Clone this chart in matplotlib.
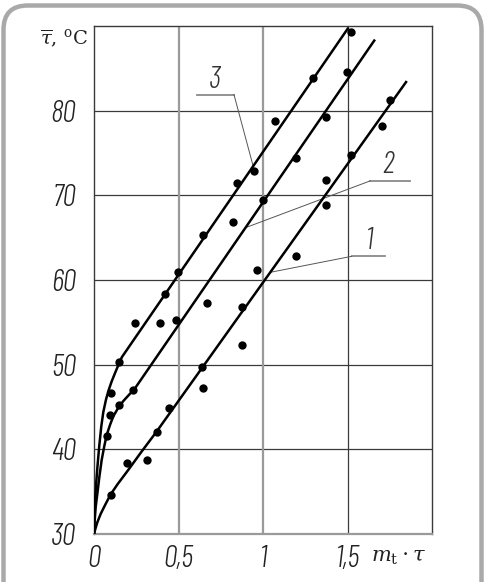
import matplotlib
matplotlib.use("Agg")
import matplotlib.pyplot as plt
from matplotlib.patches import FancyBboxPatch

# ---- data ----
x_ticks = [0, 0.5, 1, 1.5]
x_tick_labels = ["0", "0,5", "1", "1,5"]
y_ticks = [30, 40, 50, 60, 70, 80]
y_tick_labels = ["30", "40", "50", "60", "70", "80"]

# measured points
pts3_x = [0.099, 0.148, 0.242, 0.42, 0.498, 0.646, 0.843, 0.945, 1.069, 1.292, 1.517]
pts3_y = [46.7, 50.3, 54.9, 58.3, 61.0, 65.3, 71.5, 72.9, 78.8, 83.8, 89.3]
pts2_x = [0.075, 0.095, 0.148, 0.232, 0.39, 0.485, 0.666, 0.823, 0.997, 1.194, 1.371, 1.497]
pts2_y = [41.6, 44.0, 45.2, 47.0, 54.9, 55.3, 57.3, 66.8, 69.5, 74.4, 79.3, 84.6]
pts1_x = [0.099, 0.193, 0.315, 0.37, 0.445, 0.636, 0.646, 0.873, 0.876, 0.961, 1.194,
          1.371, 1.371, 1.517, 1.702, 1.749]
pts1_y = [34.6, 38.4, 38.7, 42.1, 44.9, 49.7, 47.3, 56.8, 52.3, 61.2, 62.8,
          68.8, 71.8, 74.8, 78.2, 81.3]

# fitted curves
curve3_x = [0, 0.002, 0.005, 0.009, 0.014, 0.021, 0.031, 0.043, 0.055, 0.07, 0.085, 0.104, 0.124, 0.145, 0.165, 1.503]
curve3_y = [30, 31.8, 33.4, 34.8, 36.3, 38.1, 40.4, 42.7, 44.4, 45.8, 46.9, 48.0, 49.0, 50.0, 50.9, 89.8]
curve2_x = [0, 0.004, 0.01, 0.02, 0.032, 0.045, 0.06, 0.075, 0.095, 0.114, 0.14, 0.173, 0.205, 0.242, 1.66]
curve2_y = [30, 31.6, 33.2, 34.8, 36.8, 38.7, 40.3, 41.7, 42.9, 43.9, 44.8, 45.7, 46.4, 47.2, 88.4]
curve1_x = [0, 0.008, 0.02, 0.04, 0.07, 0.099, 0.14, 0.2, 0.28, 0.37, 1.848]
curve1_y = [30, 30.6, 31.4, 32.4, 33.6, 34.7, 35.9, 37.5, 39.7, 42.1, 83.5]

curve_labels = ["1", "2", "3"]
label_pos_x = [1.631, 1.739, 0.715]
label_pos_y = [64.6, 73.6, 83.6]
underline_x0 = [1.523, 1.631, 0.61]
underline_x1 = [1.719, 1.867, 0.827]
underline_y = [62.8, 71.7, 81.9]
leader_end_x = [1.04, 0.898, 0.941]
leader_end_y = [60.9, 66.2, 73.4]
leader_start_x = [1.523, 1.631, 0.827]

W, H = 485, 582
fig = plt.figure(figsize=(W / 100, H / 100), dpi=100)
fig.patch.set_facecolor("white")

# rounded frame
frame = FancyBboxPatch((3.5 / W, -30 / H), (W - 7) / W, (H - 5.5 + 30) / H,
                       boxstyle="round,pad=0,rounding_size=0.05",
                       transform=fig.transFigure, facecolor="none",
                       edgecolor="#a9a9a9", linewidth=3.2, zorder=10,
                       mutation_aspect=W / H)
fig.patches.append(frame)

ax = fig.add_axes([94 / W, (H - 534) / H, (432.5 - 94) / W, (534 - 26) / H])
ax.set_xlim(0, 2)
ax.set_ylim(30, 90)
ax.set_facecolor("white")

dark = "#3a3a3a"
grey = "#9a9a9a"
for s in ["left", "top", "right"]:
    ax.spines[s].set_color(dark)
    ax.spines[s].set_linewidth(1.0)
ax.spines["bottom"].set_color(grey)
ax.spines["bottom"].set_linewidth(1.6)

for yv in [40, 50, 60, 70, 80]:
    ax.axhline(yv, color=dark, lw=0.9, zorder=1)
ax.axvline(0.5, color=grey, lw=1.6, zorder=1)
ax.axvline(1.0, color=grey, lw=1.6, zorder=1)
ax.axvline(1.5, color=dark, lw=0.9, zorder=1)

num_family = ["Barlow Condensed", "DejaVu Sans"]
tick_font = dict(family=num_family, style="italic", weight=300, size=22)
ax.set_xticks(x_ticks)
ax.set_xticklabels(x_tick_labels, **tick_font)
ax.set_yticks(y_ticks)
ax.set_yticklabels(y_tick_labels, **tick_font)
ax.tick_params(length=0, colors="#222222")
ax.tick_params(axis="x", pad=8)
ax.tick_params(axis="y", pad=13)
for lab in ax.get_xticklabels() + ax.get_yticklabels():
    lab.set_color("#222222")

# curves
for cx, cy in [(curve1_x, curve1_y), (curve2_x, curve2_y), (curve3_x, curve3_y)]:
    ax.plot(cx, cy, color="black", lw=1.8, solid_capstyle="butt", zorder=3)

# points
for px, py in [(pts1_x, pts1_y), (pts2_x, pts2_y), (pts3_x, pts3_y)]:
    ax.scatter(px, py, s=36, color="black", zorder=4, linewidths=0)

# labels with leader lines
for i, lab in enumerate(curve_labels):
    ax.text(label_pos_x[i], label_pos_y[i], lab, ha="center", va="center",
            family=num_family, style="italic", weight=300,
            size=22, color="#333333", zorder=5)
    ax.plot([underline_x0[i], underline_x1[i]], [underline_y[i]] * 2,
            color="#8a8a8a", lw=1.3, zorder=2)
    ax.plot([leader_start_x[i], leader_end_x[i]], [underline_y[i], leader_end_y[i]],
            color="#555555", lw=0.7, zorder=2)

# axis titles
fig.text(88 / W, 1 - 38 / H, r"$\overline{\tau}$, $^{\rm o}$C", ha="right", va="center",
         size=14, family="DejaVu Serif", color="#222222",
         math_fontfamily="dejavuserif")
fig.text(371 / W, 1 - 557 / H, r"$m_{\rm t}\cdot\tau$", ha="left", va="center",
         size=15, color="#222222", math_fontfamily="dejavuserif")

fig.savefig("out.png", dpi=100, facecolor="white")
